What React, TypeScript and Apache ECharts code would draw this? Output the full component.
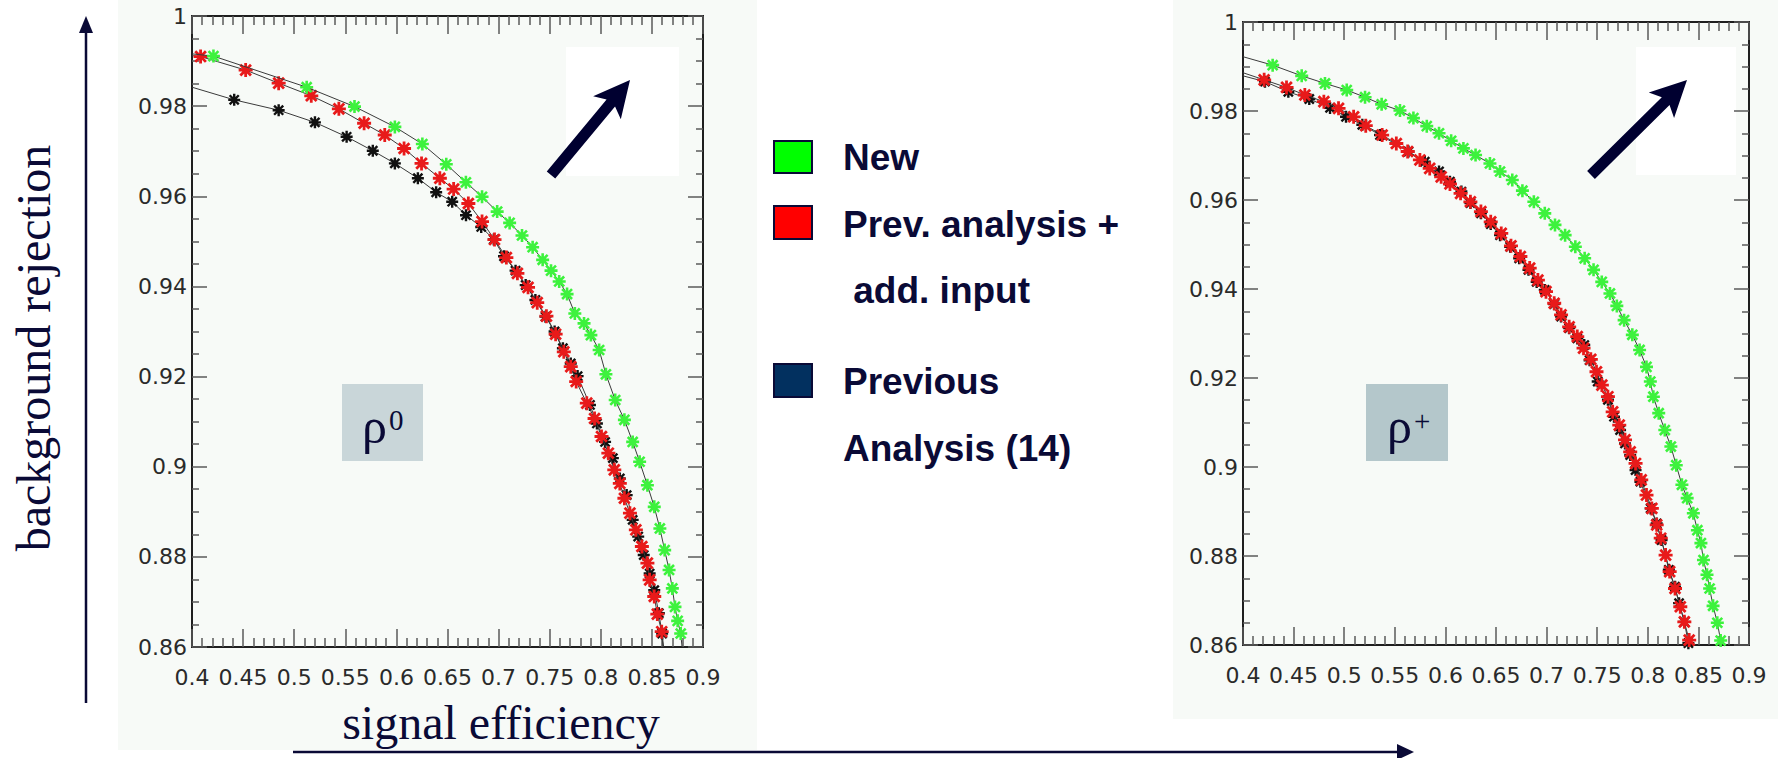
import React, { useEffect, useRef } from "react";
import * as echarts from "echarts";

// ---------- data ----------
const xTicks = { min: 0.4, max: 0.9, step: 0.05 };
const yTicks = { min: 0.86, max: 1.0, step: 0.02 };

const legendLabels = ["New", "Prev. analysis +", " add. input", "Previous", "Analysis (14)"];
const panelLabels = ["0", "+"];

// rho0 panel
const rho0New: number[][] = [
  [0.421, 0.9911], [0.5122, 0.9842], [0.559, 0.9799], [0.5985, 0.9754], [0.6254, 0.9716],
  [0.6488, 0.9671], [0.668, 0.9631], [0.6838, 0.9599], [0.6986, 0.9566], [0.7108, 0.9541],
  [0.7229, 0.9513], [0.7333, 0.9487], [0.7431, 0.9459], [0.7513, 0.9435], [0.7593, 0.9411],
  [0.767, 0.9383], [0.7746, 0.934], [0.7836, 0.9318], [0.7903, 0.9292], [0.7984, 0.9259],
  [0.805, 0.9205], [0.8141, 0.9148], [0.8231, 0.9104], [0.8312, 0.9055], [0.838, 0.9011],
  [0.8456, 0.8959], [0.8523, 0.8911], [0.8578, 0.8863], [0.8625, 0.8815], [0.8668, 0.8771],
  [0.87, 0.873], [0.8726, 0.8689], [0.8752, 0.8658], [0.8782, 0.863],
];
const rho0NewEnds: number[][] = [[0.4, 0.9916], [0.8795, 0.86]];

const rho0PrevAdd: number[][] = [
  [0.4084, 0.991], [0.4525, 0.988], [0.4848, 0.9851], [0.5167, 0.9823], [0.5437, 0.9794],
  [0.5684, 0.9762], [0.5886, 0.9736], [0.6075, 0.9706], [0.6246, 0.9673], [0.6425, 0.964],
  [0.656, 0.9616], [0.6704, 0.9584], [0.6838, 0.9544], [0.696, 0.9504], [0.7076, 0.9464],
  [0.7184, 0.9429], [0.7288, 0.9398], [0.7378, 0.9364], [0.7468, 0.9334], [0.7558, 0.9294],
  [0.7638, 0.9255], [0.7706, 0.9222], [0.7759, 0.9189], [0.7863, 0.9141], [0.7939, 0.9107],
  [0.8007, 0.9067], [0.8074, 0.903], [0.8132, 0.8993], [0.8186, 0.8963], [0.8231, 0.893],
  [0.8285, 0.8897], [0.8343, 0.886], [0.8402, 0.8823], [0.8456, 0.8786], [0.8478, 0.8749],
  [0.8523, 0.8712], [0.8553, 0.8673], [0.8596, 0.8634],
];
const rho0PrevAddEnds: number[][] = [[0.4, 0.9912], [0.8608, 0.86]];

const rho0Prev: number[][] = [
  [0.4413, 0.9814], [0.4848, 0.9791], [0.5203, 0.9764], [0.5513, 0.9732], [0.5769, 0.9701],
  [0.5985, 0.9673], [0.621, 0.964], [0.6389, 0.9609], [0.6546, 0.9588], [0.6681, 0.9558],
  [0.683, 0.9532], [0.6953, 0.9504], [0.7053, 0.9467], [0.7166, 0.9435], [0.7265, 0.9403],
  [0.736, 0.937], [0.7459, 0.9333], [0.7548, 0.93], [0.7629, 0.9263], [0.7706, 0.9229],
  [0.7773, 0.9201], [0.7894, 0.9137], [0.7962, 0.9096], [0.8042, 0.9055], [0.8118, 0.9019],
  [0.8186, 0.8974], [0.8253, 0.8937], [0.8312, 0.8882], [0.8366, 0.8845], [0.842, 0.8804],
  [0.8478, 0.8763], [0.8523, 0.8726], [0.8568, 0.8675], [0.86, 0.863],
];
const rho0PrevEnds: number[][] = [[0.4, 0.9842], [0.8615, 0.86]];

// rho+ panel
const rhoPNew: number[][] = [
  [0.4293, 0.9903], [0.458, 0.9879], [0.481, 0.9862], [0.5025, 0.9847], [0.5206, 0.9831],
  [0.537, 0.9815], [0.5551, 0.9801], [0.5684, 0.9784], [0.5816, 0.9766], [0.5937, 0.975],
  [0.6057, 0.9733], [0.6178, 0.9716], [0.6298, 0.9701], [0.644, 0.9682], [0.654, 0.9664],
  [0.6661, 0.9645], [0.6761, 0.9621], [0.6874, 0.9596], [0.6982, 0.957], [0.7083, 0.9544],
  [0.7183, 0.9521], [0.7284, 0.9495], [0.7376, 0.9469], [0.7464, 0.9443], [0.7545, 0.9416],
  [0.7626, 0.939], [0.7694, 0.9362], [0.7766, 0.933], [0.7847, 0.9297], [0.7919, 0.9263],
  [0.7987, 0.9225], [0.8025, 0.9192], [0.8055, 0.9158], [0.8108, 0.9121], [0.8168, 0.9083],
  [0.8228, 0.9046], [0.8281, 0.9004], [0.8337, 0.896], [0.8389, 0.893], [0.845, 0.8896],
  [0.849, 0.8858], [0.8525, 0.8829], [0.855, 0.8791], [0.8585, 0.8758], [0.8611, 0.8727],
  [0.8645, 0.8688], [0.8687, 0.865], [0.872, 0.861],
];
const rhoPNewEnds: number[][] = [[0.4, 0.9922], [0.8735, 0.86]];

const rhoPPrevAdd: number[][] = [
  [0.4209, 0.987], [0.443, 0.9853], [0.4611, 0.9836], [0.4799, 0.9821], [0.4944, 0.9806],
  [0.5093, 0.9787], [0.5213, 0.9767], [0.5375, 0.9746], [0.5515, 0.9727], [0.5627, 0.9709],
  [0.5748, 0.969], [0.5845, 0.9671], [0.5958, 0.9652], [0.6045, 0.9636], [0.615, 0.9615],
  [0.6247, 0.9596], [0.6351, 0.9574], [0.6448, 0.9551], [0.6552, 0.9525], [0.6648, 0.9497],
  [0.6741, 0.9473], [0.6833, 0.9447], [0.6914, 0.942], [0.6994, 0.9394], [0.7075, 0.9368],
  [0.7143, 0.9342], [0.7223, 0.9315], [0.7303, 0.9293], [0.7365, 0.9267], [0.7437, 0.9242],
  [0.7493, 0.9214], [0.7546, 0.9184], [0.7606, 0.9158], [0.7653, 0.9124], [0.7718, 0.9094],
  [0.7775, 0.9061], [0.7826, 0.9034], [0.7879, 0.9008], [0.7935, 0.8971], [0.7987, 0.8937],
  [0.804, 0.8907], [0.8088, 0.887], [0.8128, 0.884], [0.8176, 0.8802], [0.8216, 0.8765],
  [0.8269, 0.8727], [0.8321, 0.8686], [0.8361, 0.8652], [0.8409, 0.8611],
];
const rhoPPrevAddEnds: number[][] = [[0.4, 0.9886], [0.8418, 0.86]];

const rhoPPrev: number[][] = [
  [0.4217, 0.9866], [0.4448, 0.9843], [0.4655, 0.9827], [0.486, 0.9807], [0.5018, 0.9787],
  [0.5179, 0.9769], [0.5354, 0.9746], [0.5635, 0.9709], [0.5796, 0.9686], [0.5937, 0.9664],
  [0.6045, 0.9641], [0.6158, 0.9619], [0.6247, 0.9593], [0.6351, 0.957], [0.6448, 0.9546],
  [0.654, 0.9521], [0.664, 0.9495], [0.6729, 0.9469], [0.6821, 0.9443], [0.6902, 0.9416],
  [0.6982, 0.9398], [0.7075, 0.9366], [0.7143, 0.9338], [0.7223, 0.9312], [0.7303, 0.9289],
  [0.7372, 0.9274], [0.7425, 0.924], [0.7505, 0.9192], [0.7606, 0.9151], [0.7666, 0.9113],
  [0.7726, 0.9083], [0.7775, 0.9053], [0.7826, 0.9027], [0.7879, 0.8993], [0.7927, 0.8967],
  [0.8028, 0.8907], [0.8088, 0.8873], [0.8136, 0.8836], [0.8208, 0.8769], [0.8269, 0.8731],
  [0.8309, 0.8694], [0.8361, 0.8652], [0.8401, 0.8604],
];
const rhoPPrevEnds: number[][] = [[0.4, 0.9879], [0.8412, 0.86]];

// ---------- styling ----------
const GREEN = "#3df23d";
const RED = "#e81a1a";
const BLACK = "#111111";
const NAVY = "#0a0a36";
const ASTER =
  "path://M0,4H10V6H0Z M4,0H6V10H4Z M0.5,1.9L1.9,0.5L9.5,8.1L8.1,9.5Z M8.1,0.5L9.5,1.9L1.9,9.5L0.5,8.1Z";

function makeSeries(name: string, pts: number[][], ends: number[][], color: string, size: number, gi: number, z: number) {
  const data: any[] = [
    { value: ends[0], symbol: "none" },
    ...pts.map((p) => ({ value: p })),
    { value: ends[1], symbol: "none" },
  ];
  return {
    name,
    type: "line",
    xAxisIndex: gi * 2,
    yAxisIndex: gi * 2,
    data,
    symbol: ASTER,
    symbolSize: size,
    showAllSymbol: true,
    clip: true,
    silent: true,
    z,
    itemStyle: { color },
    lineStyle: { color: "#3a3a3a", width: 1 },
    emphasis: { disabled: true },
  };
}

const tickColor = "#5a5a5a";
const labelStyle = { fontSize: 22, color: "#2a2a2a", fontFamily: "DejaVu Sans" };
function xAx(gi: number, pos: "bottom" | "top") {
  return {
    type: "value",
    gridIndex: gi,
    position: pos,
    min: xTicks.min,
    max: xTicks.max,
    interval: xTicks.step,
    axisLine: { show: false },
    axisTick: { show: true, inside: true, length: 18, lineStyle: { color: tickColor, width: 1.5 } },
    minorTick: { show: true, splitNumber: 5, length: 9, lineStyle: { color: tickColor, width: 1.5 } },
    splitLine: { show: false },
    axisLabel: { show: pos === "bottom", margin: 19, ...labelStyle },
  };
}
function yAx(gi: number, pos: "left" | "right") {
  return {
    type: "value",
    gridIndex: gi,
    position: pos,
    min: yTicks.min,
    max: yTicks.max,
    interval: yTicks.step,
    axisLine: { show: false },
    axisTick: { show: true, inside: true, length: 15, lineStyle: { color: tickColor, width: 1.5 } },
    minorTick: { show: true, splitNumber: 4, length: 7, lineStyle: { color: tickColor, width: 1.5 } },
    splitLine: { show: false },
    axisLabel: { show: pos === "left", margin: 5, ...labelStyle },
  };
}

function arrowPoly(tail: number[], tip: number[], shaftHalf: number, headLen: number, headHalf: number) {
  const dx = tip[0] - tail[0];
  const dy = tip[1] - tail[1];
  const L = Math.hypot(dx, dy);
  const ux = dx / L, uy = dy / L;
  const nx = -uy, ny = ux;
  const b = [tip[0] - ux * (headLen - 6), tip[1] - uy * (headLen - 6)];
  const w = [tip[0] - ux * headLen, tip[1] - uy * headLen];
  return [
    [tail[0] - nx * shaftHalf, tail[1] - ny * shaftHalf],
    [b[0] - nx * shaftHalf, b[1] - ny * shaftHalf],
    [w[0] - nx * headHalf, w[1] - ny * headHalf],
    [tip[0], tip[1]],
    [w[0] + nx * headHalf, w[1] + ny * headHalf],
    [b[0] + nx * shaftHalf, b[1] + ny * shaftHalf],
    [tail[0] + nx * shaftHalf, tail[1] + ny * shaftHalf],
  ];
}

export default function App() {
  const ref = useRef<HTMLDivElement>(null);
  useEffect(() => {
    if (!ref.current) return;
    const chart = echarts.init(ref.current, undefined, { renderer: "svg" });
    const legendFont = { fontSize: 37, fontWeight: "bold", fontFamily: "Liberation Sans, Arial", fill: NAVY } as any;
    const graphic: any[] = [
      // panels
      { type: "rect", z: -10, shape: { x: 118, y: 0, width: 639, height: 750 }, style: { fill: "#f7faf7" } },
      { type: "rect", z: -10, shape: { x: 1173, y: 0, width: 605, height: 719 }, style: { fill: "#f7faf7" } },
      { type: "rect", z: -9, shape: { x: 566, y: 47, width: 113, height: 129 }, style: { fill: "#ffffff" } },
      { type: "rect", z: -9, shape: { x: 1636, y: 47, width: 100, height: 128 }, style: { fill: "#ffffff" } },
      // diagonal arrows
      { type: "polygon", z: 5, shape: { points: arrowPoly([551, 175], [630, 80], 5.5, 36, 18) }, style: { fill: "#000030" } },
      { type: "polygon", z: 5, shape: { points: arrowPoly([1591, 175], [1687, 80], 5.5, 36, 18) }, style: { fill: "#000030" } },
      // rho boxes
      { type: "rect", z: 5, shape: { x: 342, y: 384, width: 81, height: 77 }, style: { fill: "#c9d6d9" } },
      { type: "rect", z: 5, shape: { x: 1366, y: 384, width: 82, height: 77 }, style: { fill: "#b4c7cb" } },
      { type: "text", z: 6, x: 362, y: 426, style: { text: "ρ", fontSize: 50, fontFamily: "Liberation Serif", fill: NAVY, verticalAlign: "middle" } },
      { type: "text", z: 6, x: 389, y: 420, style: { text: panelLabels[0], fontSize: 29, fontFamily: "Liberation Serif", fill: NAVY, verticalAlign: "middle" } },
      { type: "text", z: 6, x: 1387, y: 426, style: { text: "ρ", fontSize: 50, fontFamily: "Liberation Serif", fill: NAVY, verticalAlign: "middle" } },
      { type: "text", z: 6, x: 1414, y: 421, style: { text: panelLabels[1], fontSize: 29, fontFamily: "Liberation Serif", fill: NAVY, verticalAlign: "middle" } },
      // legend
      { type: "rect", z: 5, shape: { x: 774, y: 141, width: 38, height: 32 }, style: { fill: "#00ff00", stroke: NAVY, lineWidth: 2 } },
      { type: "rect", z: 5, shape: { x: 774, y: 206, width: 38, height: 33 }, style: { fill: "#ff0000", stroke: NAVY, lineWidth: 2 } },
      { type: "rect", z: 5, shape: { x: 774, y: 364, width: 38, height: 33 }, style: { fill: "#02305f", stroke: NAVY, lineWidth: 2 } },
      { type: "text", z: 5, x: 843, y: 157, style: { ...legendFont, text: legendLabels[0], verticalAlign: "middle" } },
      { type: "text", z: 5, x: 843, y: 224, style: { ...legendFont, text: legendLabels[1], verticalAlign: "middle" } },
      { type: "text", z: 5, x: 843, y: 290, style: { ...legendFont, text: legendLabels[2], verticalAlign: "middle" } },
      { type: "text", z: 5, x: 843, y: 381, style: { ...legendFont, text: legendLabels[3], verticalAlign: "middle" } },
      { type: "text", z: 5, x: 843, y: 448, style: { ...legendFont, text: legendLabels[4], verticalAlign: "middle" } },
      // axis titles with arrows
      {
        type: "text", z: 5, x: 33, y: 348, rotation: Math.PI / 2,
        style: { text: "background rejection", fontSize: 48, fontFamily: "Liberation Serif", fill: NAVY, align: "center", verticalAlign: "middle" },
      },
      { type: "text", z: 5, x: 501, y: 722, style: { text: "signal efficiency", fontSize: 48, fontFamily: "Liberation Serif", fill: NAVY, align: "center", verticalAlign: "middle" } },
      { type: "line", z: 5, shape: { x1: 86, y1: 30, x2: 86, y2: 703 }, style: { stroke: NAVY, lineWidth: 2.5 } },
      { type: "polygon", z: 5, shape: { points: [[79, 33], [86, 16], [93, 33]] }, style: { fill: NAVY } },
      { type: "line", z: 5, shape: { x1: 293, y1: 752, x2: 1400, y2: 752 }, style: { stroke: NAVY, lineWidth: 2.5 } },
      { type: "polygon", z: 5, shape: { points: [[1397, 744], [1414, 752], [1397, 760]] }, style: { fill: NAVY } },
    ];
    chart.setOption({
      animation: false,
      backgroundColor: "#ffffff",
      grid: [
        { left: 192, top: 16, width: 511, height: 631, show: true, borderColor: "#1e1e1e", borderWidth: 2, backgroundColor: "transparent" },
        { left: 1243, top: 22, width: 506, height: 623, show: true, borderColor: "#1e1e1e", borderWidth: 2, backgroundColor: "transparent" },
      ],
      xAxis: [xAx(0, "bottom"), xAx(0, "top"), xAx(1, "bottom"), xAx(1, "top")],
      yAxis: [yAx(0, "left"), yAx(0, "right"), yAx(1, "left"), yAx(1, "right")],
      series: [
        makeSeries("Previous Analysis (14)", rho0Prev, rho0PrevEnds, BLACK, 12, 0, 2),
        makeSeries("Prev. analysis + add. input", rho0PrevAdd, rho0PrevAddEnds, RED, 14, 0, 3),
        makeSeries("New", rho0New, rho0NewEnds, GREEN, 13, 0, 4),
        makeSeries("Previous Analysis (14)", rhoPPrev, rhoPPrevEnds, BLACK, 12, 1, 2),
        makeSeries("Prev. analysis + add. input", rhoPPrevAdd, rhoPPrevAddEnds, RED, 14, 1, 3),
        makeSeries("New", rhoPNew, rhoPNewEnds, GREEN, 13, 1, 4),
      ],
      graphic,
    });
    return () => chart.dispose();
  }, []);
  return (
    <div
      ref={ref}
      style={{ position: "absolute", left: 0, top: 0, width: 1778, height: 758, background: "#fff" }}
    />
  );
}
